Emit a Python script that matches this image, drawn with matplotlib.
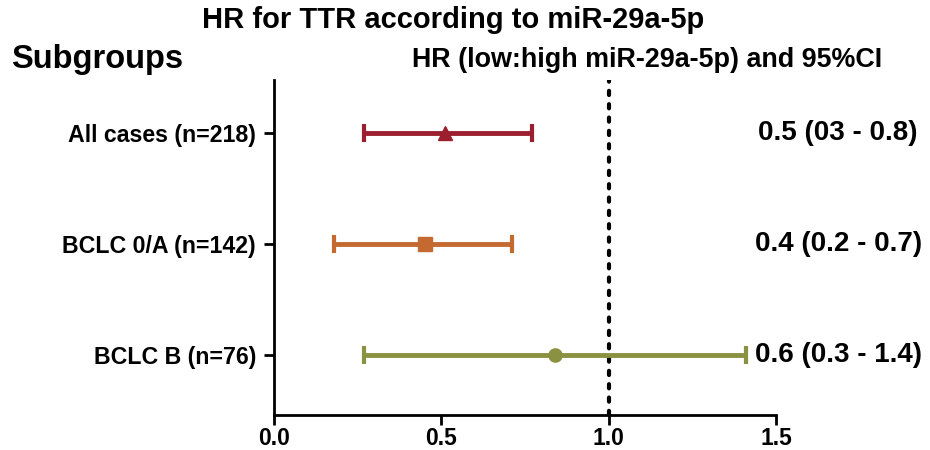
import matplotlib
matplotlib.use("Agg")
import matplotlib.pyplot as plt

# ── data ──────────────────────────────────────────────────────────────────
subgroups = ["All cases (n=218)", "BCLC 0/A (n=142)", "BCLC B (n=76)"]
hr = [0.51, 0.45, 0.84]
ci_low = [0.27, 0.18, 0.27]
ci_high = [0.77, 0.71, 1.41]
hr_text = ["0.5 (03 - 0.8)", "0.4 (0.2 - 0.7)", "0.6 (0.3 - 1.4)"]
colors = ["#9b1f2e", "#c46a30", "#8a9140"]
markers = ["^", "s", "o"]
xticks = [0.0, 0.5, 1.0, 1.5]

plt.rcParams["font.family"] = ["Liberation Sans", "DejaVu Sans"]

fig = plt.figure(figsize=(9.3, 4.5), dpi=100)
ax = fig.add_axes([0.2946, 0.0778, 0.5398, 0.744])

ypos = list(range(1, len(subgroups) + 1))
for y, h, lo, hi, c, m in zip(ypos, hr, ci_low, ci_high, colors, markers):
    ax.errorbar(h, y, xerr=[[h - lo], [hi - h]], fmt=m, color=c,
                ecolor=c, elinewidth=3.5, capsize=6.5, capthick=3,
                markersize=10 if m == "^" else 9.5, zorder=3)

# reference line at HR = 1
ax.axvline(1.0, color="black", linestyle=(0, (1.0, 2.2)), linewidth=3,
           dash_capstyle="round", zorder=2)

ax.set_xlim(0, 1.5)
ax.set_ylim(3.54, 0.52)
ax.set_xticks(xticks)
ax.set_xticklabels([f"{v:.1f}" for v in xticks])
ax.set_yticks(ypos)
ax.set_yticklabels(subgroups)

for side in ("top", "right"):
    ax.spines[side].set_visible(False)
for side in ("left", "bottom"):
    ax.spines[side].set_linewidth(2)
ax.tick_params(axis="y", direction="out", length=7, width=2,
               labelsize=16.7, pad=6)
ax.tick_params(axis="x", direction="out", length=7, width=2,
               labelsize=16.5, pad=2)
for lab in ax.get_xticklabels() + ax.get_yticklabels():
    lab.set_fontweight("bold")

for y, t in zip(ypos, hr_text):
    ax.text(1.124, y, t, transform=ax.get_yaxis_transform(),
            ha="center", va="center", fontsize=20, fontweight="bold")

fig.text(0.487, 0.955, "HR for TTR according to miR-29a-5p",
         ha="center", va="center", fontsize=21, fontweight="bold")
fig.text(0.012, 0.868, "Subgroups", ha="left", va="center",
         fontsize=23.5, fontweight="bold")
fig.text(0.443, 0.866, "HR (low:high miR-29a-5p) and 95%CI", ha="left",
         va="center", fontsize=19.4, fontweight="bold")

fig.savefig("out.png", dpi=100, facecolor="white")
